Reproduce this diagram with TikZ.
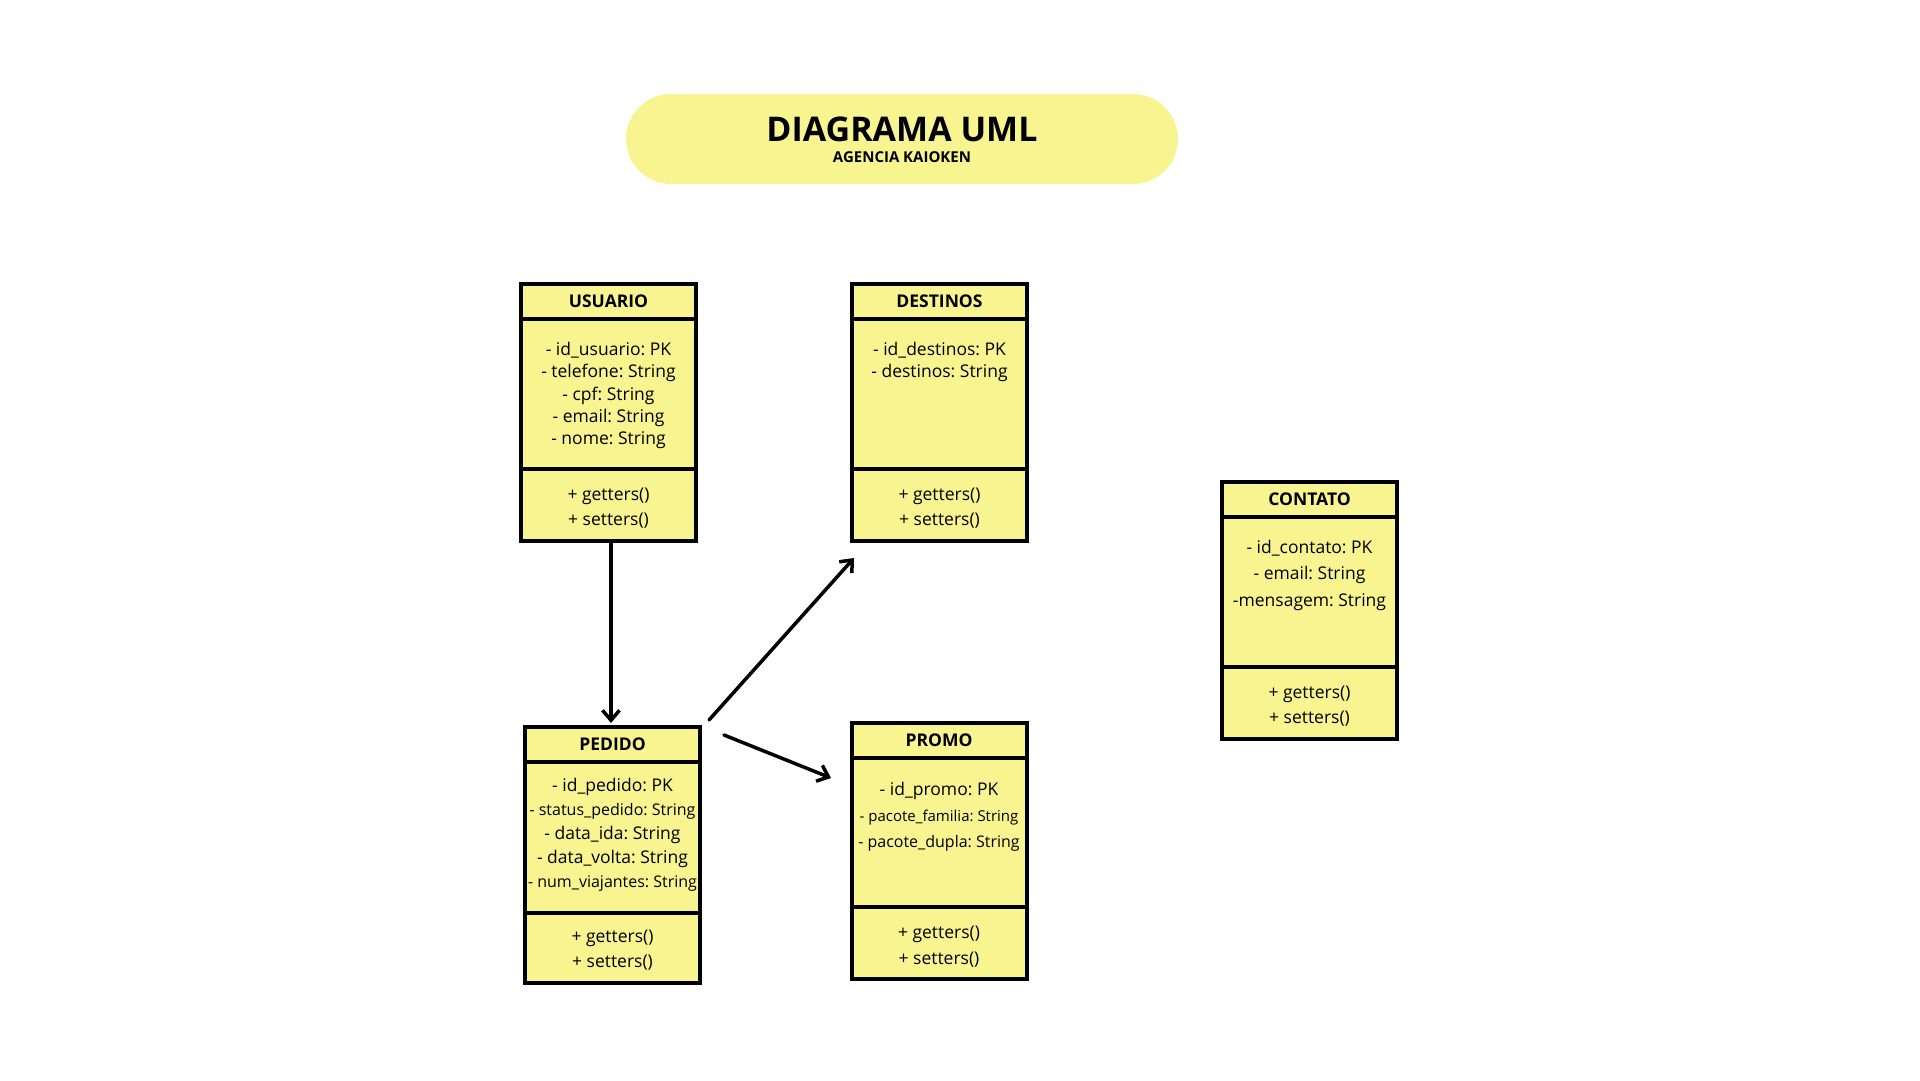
\documentclass[tikz,border=0pt]{standalone}
\usepackage{fontspec}
\setmainfont{Open Sans}
\usepackage{xcolor}
\usetikzlibrary{arrows.meta, positioning}
\definecolor{umlyellow}{HTML}{F8F590}
\frenchspacing

\begin{document}
\begin{tikzpicture}[
  x=1pt, y=-1pt,
  node distance=0pt,
  box/.style={draw, line width=4pt, fill=umlyellow, outer sep=0pt, inner sep=0pt,
              minimum width=175pt},
  head/.style={box, minimum height=35pt, font=\bfseries\fontsize{17.5}{21}\selectfont},
  attrs/.style={box, text width=175pt, align=flush center, text height=36.5pt, text depth=113.5pt,
                font=\fontsize{17.5}{22.3}\selectfont},
  ops/.style={box, text width=175pt, align=flush center, text height=31pt, text depth=41pt,
              font=\fontsize{17.5}{25}\selectfont},
  pill/.style={fill=umlyellow, rounded corners=45pt, inner sep=0pt, text width=552pt,
               align=flush center, text height=47.7pt, text depth=42.3pt,
               font=\bfseries\fontsize{15}{21}\selectfont},
  link/.style={-{Straight Barb[length=10pt,width=17pt]}, line width=3.5pt, line cap=round},
]
\path[fill=white, use as bounding box] (0,0) rectangle (1920,1080);

% title
\node[pill] (title) at (902,139) {{\fontsize{34}{40}\selectfont DIAGRAMA UML}\\AGENCIA KAIOKEN};

% usuario
\node[head] (usuario) at (608.5,301.5) {USUARIO};
\node[attrs, below=of usuario] (usuario-a) {- id\_usuario: PK\\- telefone: String\\- cpf: String\\- email: String\\- nome: String};
\node[ops, below=of usuario-a] (usuario-m) {+ getters()\\+ setters()};

% destinos
\node[head] (destinos) at (939.5,301.5) {DESTINOS};
\node[attrs, below=of destinos] (destinos-a) {- id\_destinos: PK\\- destinos: String};
\node[ops, below=of destinos-a] (destinos-m) {+ getters()\\+ setters()};

% pedido
\node[head] (pedido) at (612.5,744.5) {PEDIDO};
\node[attrs, below=of pedido, text height=29pt, text depth=122pt,
      font=\fontsize{17.5}{24}\selectfont] (pedido-a)
  {- id\_pedido: PK\\{\fontsize{16}{24}\selectfont - status\_pedido: String}\\- data\_ida: String\\- data\_volta: String\\{\fontsize{16}{24}\selectfont - num\_viajantes: String}};
\node[ops, below=of pedido-a, text height=29pt, text depth=41pt] (pedido-m) {+ getters()\\+ setters()};

% promo
\node[head] (promo) at (939,740.5) {PROMO};
\node[attrs, below=of promo, text height=37pt, text depth=112pt,
      font=\fontsize{17.5}{26}\selectfont] (promo-a)
  {- id\_promo: PK\\{\fontsize{15}{26}\selectfont - pacote\_familia: String}\\{\fontsize{16}{26}\selectfont - pacote\_dupla: String}};
\node[ops, below=of promo-a, font=\fontsize{17.5}{26}\selectfont] (promo-m) {+ getters()\\+ setters()};

% contato
\node[head] (contato) at (1309.5,499.5) {CONTATO};
\node[attrs, below=of contato, text height=36pt, text depth=114pt,
      font=\fontsize{17.5}{26.5}\selectfont] (contato-a)
  {- id\_contato: PK\\- email: String\\-mensagem: String};
\node[ops, below=of contato-a] (contato-m) {+ getters()\\+ setters()};

% links
\coordinate (pedido-out1) at ([shift={(9,-7)}]pedido.north east);
\coordinate (pedido-out2) at ([shift={(24,8)}]pedido.north east);
\coordinate (destinos-in) at ([shift={(2,17)}]destinos-m.south west);
\coordinate (promo-in) at ([shift={(-20.5,20)}]promo.south west);
\draw[link] ([shift={(2.5,2)}]usuario-m.south) -- ([shift={(-1.5,-4)}]pedido.north);
\draw[link] (pedido-out1) -- (destinos-in);
\draw[link] (pedido-out2) -- (promo-in);
\end{tikzpicture}
\end{document}
